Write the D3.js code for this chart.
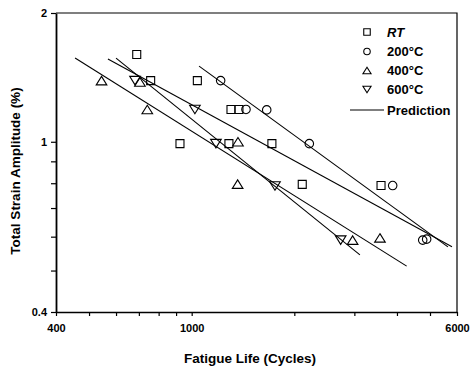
<!DOCTYPE html>
<html>
<head>
<meta charset="utf-8">
<script src="https://cdn.jsdelivr.net/npm/d3@7"></script>
<style>
  html, body { margin: 0; padding: 0; background: #fff; }
  svg { display: block; }
  text { font-family: "Liberation Sans", Arial, sans-serif; fill: #000; }
</style>
</head>
<body>
<svg id="chart" width="471" height="372"></svg>
<script>
// Fatigue life measurements, [cycles to failure, total strain amplitude %]
const rtData = [[690, 1.60], [758, 1.39], [1039, 1.39], [924, 0.99], [1304, 1.19], [1376, 1.19],
                [1286, 0.99], [1719, 0.99], [2110, 0.795], [3592, 0.79]];
const t200Data = [[1216, 1.39], [1443, 1.19], [1660, 1.187], [2213, 0.99], [3886, 0.79],
                  [4760, 0.589], [4888, 0.592]];
const t400Data = [[544, 1.39], [705, 1.38], [741, 1.19], [1367, 1.0], [1364, 0.796],
                  [2965, 0.589], [3566, 0.596]];
const t600Data = [[682, 1.39], [1022, 1.19], [1178, 0.99], [1755, 0.788], [2735, 0.589]];

// Predicted life curves (straight lines in log-log space), end points
const predRT = [[568, 1.561], [5800, 0.568]];
const pred200 = [[1051, 1.503], [5643, 0.568]];
const pred400 = [[455, 1.569], [4271, 0.512]];
const pred600 = [[600, 1.569], [3115, 0.544]];

// Axis ticks
const xTicks = [400, 500, 600, 700, 800, 900, 1000, 2000, 3000, 4000, 5000, 6000];
const xTickLabels = ["400", "1000", "6000"];
const yTicks = [0.4, 0.5, 0.6, 0.7, 0.8, 0.9, 1, 2];
const yTickLabels = ["0.4", "1", "2"];

// Legend entries
const legendLabels = ["RT", "200°C", "400°C", "600°C", "Prediction"];

const svg = d3.select("#chart");
const plotL = 56, plotR = 457, plotT = 13, plotB = 312;

const x = d3.scaleLog().domain([400, 6000]).range([plotL, plotR]);
const y = d3.scaleLog().domain([0.4, 2]).range([plotB, plotT]);

// Frame: top and right edges
svg.append("path")
  .attr("d", `M${plotL},${plotT}H${plotR}V${plotB}`)
  .attr("fill", "none").attr("stroke", "#000").attr("stroke-width", 1.2);

// X axis
const xAxis = d3.axisBottom(x)
  .tickValues(xTicks)
  .tickSize(4).tickSizeOuter(0).tickPadding(8)
  .tickFormat(d => xTickLabels.includes(String(d)) ? String(d) : "");
const gx = svg.append("g").attr("transform", `translate(0,${plotB})`).call(xAxis);
gx.select(".domain").attr("stroke-width", 1.6);
gx.selectAll(".tick line").attr("stroke-width", 1.2);
gx.selectAll(".tick text")
  .attr("font-family", "'Liberation Sans', Arial, sans-serif")
  .attr("font-size", 11).attr("font-weight", "bold");

// Y axis
const yAxis = d3.axisLeft(y)
  .tickValues(yTicks)
  .tickSize(5).tickSizeOuter(0).tickPadding(4)
  .tickFormat(d => yTickLabels.includes(String(d)) ? String(d) : "");
const gy = svg.append("g").attr("transform", `translate(${plotL},0)`).call(yAxis);
gy.select(".domain").attr("stroke-width", 1.8);
gy.selectAll(".tick line").attr("stroke-width", 1.2);
gy.selectAll(".tick text")
  .attr("font-family", "'Liberation Sans', Arial, sans-serif")
  .attr("font-size", 11).attr("font-weight", "bold");

// Axis titles
svg.append("text")
  .attr("x", 250).attr("y", 363)
  .attr("text-anchor", "middle")
  .attr("font-size", 13.5).attr("font-weight", "bold")
  .text("Fatigue Life (Cycles)");
svg.append("text")
  .attr("transform", "translate(20,171) rotate(-90)")
  .attr("text-anchor", "middle")
  .attr("font-size", 13.5).attr("font-weight", "bold")
  .text("Total Strain Amplitude (%)");

// Prediction lines
const line = d3.line().x(d => x(d[0])).y(d => y(d[1]));
[predRT, pred200, pred400, pred600].forEach(p => {
  svg.append("path")
    .attr("d", line(p))
    .attr("fill", "none").attr("stroke", "#000").attr("stroke-width", 1.1);
});

// Marker shapes (open symbols)
function markerPath(kind, s) {
  const p = d3.path();
  if (kind === "square") {
    p.rect(-s / 2, -s / 2, s, s);
  } else if (kind === "circle") {
    p.arc(0, 0, s / 2, 0, Math.PI * 2);
  } else if (kind === "up") {
    const w = s * 1.25, h = s;
    p.moveTo(0, -h / 2); p.lineTo(w / 2, h / 2); p.lineTo(-w / 2, h / 2); p.closePath();
  } else if (kind === "down") {
    const w = s * 1.25, h = s;
    p.moveTo(0, h / 2); p.lineTo(w / 2, -h / 2); p.lineTo(-w / 2, -h / 2); p.closePath();
  }
  return p.toString();
}

const seriesList = [
  { data: rtData, kind: "square", size: 8 },
  { data: t200Data, kind: "circle", size: 8.5 },
  { data: t400Data, kind: "up", size: 8.5 },
  { data: t600Data, kind: "down", size: 8.5 }
];

seriesList.forEach(s => {
  svg.append("g").selectAll("path")
    .data(s.data)
    .join("path")
    .attr("transform", d => `translate(${x(d[0])},${y(d[1])})`)
    .attr("d", markerPath(s.kind, s.size))
    .attr("fill", "none").attr("stroke", "#000").attr("stroke-width", 1.1);
});

// Legend
const legX = 367, legTextX = 387;
const legY = [32, 51.5, 70.5, 89.5, 110];
const legKinds = ["square", "circle", "up", "down"];
legKinds.forEach((k, i) => {
  svg.append("path")
    .attr("transform", `translate(${legX},${legY[i]})`)
    .attr("d", markerPath(k, 6.5))
    .attr("fill", "none").attr("stroke", "#000").attr("stroke-width", 1.1);
});
svg.append("line")
  .attr("x1", 350).attr("x2", 384).attr("y1", legY[4]).attr("y2", legY[4])
  .attr("stroke", "#000").attr("stroke-width", 1.1);
legendLabels.forEach((t, i) => {
  svg.append("text")
    .attr("x", legTextX).attr("y", legY[i] + 4.7)
    .attr("font-size", 13).attr("font-weight", "bold")
    .attr("font-style", i === 0 ? "italic" : "normal")
    .text(t);
});
</script>
</body>
</html>
